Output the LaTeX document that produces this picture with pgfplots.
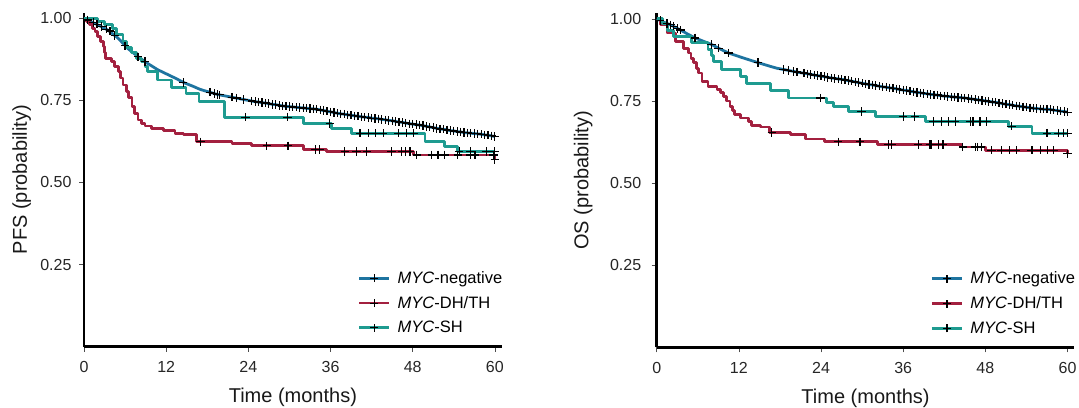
\documentclass[border=0pt]{standalone}
\usepackage{fontspec}
\setmainfont{Liberation Sans}
\usepackage{pgfplots}
\usepackage{pgfplotstable}
\pgfplotsset{compat=1.18}

\definecolor{cneg}{HTML}{1E74A0}
\definecolor{cdh}{HTML}{A3203F}
\definecolor{csh}{HTML}{1E9B90}

% ---------- PFS ----------
\pgfplotstableread{
t s
0 1.000
1.0 0.990
2.0 0.980
3.5 0.964
5.0 0.939
6.4 0.908
7.9 0.883
9.1 0.865
10.8 0.843
12.1 0.830
13.3 0.818
14.7 0.803
15.8 0.794
16.9 0.784
17.5 0.780
18.0 0.777
18.5 0.774
19.0 0.771
19.5 0.768
20.0 0.766
20.5 0.764
21.0 0.762
21.5 0.760
22.0 0.758
22.5 0.756
23.0 0.754
23.5 0.752
24.0 0.750
24.5 0.748
25.0 0.746
25.5 0.745
26.0 0.743
26.5 0.742
27.0 0.740
27.5 0.738
28.0 0.737
28.5 0.735
29.0 0.733
29.5 0.732
30.0 0.731
30.5 0.730
31.0 0.729
31.5 0.728
32.0 0.727
32.5 0.726
33.0 0.725
33.5 0.724
34.0 0.723
34.5 0.721
35.0 0.719
35.5 0.717
36.0 0.715
36.5 0.713
37.0 0.711
37.5 0.709
38.0 0.708
38.5 0.706
39.0 0.705
39.5 0.703
40.0 0.702
40.5 0.700
41.0 0.699
41.5 0.698
42.0 0.696
42.5 0.695
43.0 0.694
43.5 0.692
44.0 0.691
44.5 0.689
45.0 0.688
45.5 0.686
46.0 0.684
46.5 0.683
47.0 0.681
47.5 0.679
48.0 0.678
48.5 0.676
49.0 0.675
49.5 0.673
50.0 0.671
50.5 0.669
51.0 0.667
51.5 0.665
52.0 0.663
52.5 0.662
53.0 0.660
53.5 0.658
54.0 0.657
54.5 0.655
55.0 0.654
55.5 0.652
56.0 0.651
56.5 0.650
57.0 0.649
57.5 0.648
58.0 0.647
58.5 0.645
59.0 0.644
59.5 0.642
60.0 0.640
}\pfsneg

\pgfplotstableread{
t s
0.5 0.995
1.4 0.987
1.9 0.982
2.6 0.975
3.3 0.967
3.8 0.961
4.5 0.948
6.0 0.916
7.9 0.883
8.9 0.868
14.5 0.805
18.4 0.775
19.0 0.771
19.5 0.768
19.8 0.767
21.6 0.760
22.3 0.757
23.3 0.753
24.5 0.748
25.0 0.746
}\pfsnegc

\pgfplotstableread{
t s
0 1.000
0.4 0.990
0.8 0.980
1.2 0.970
1.6 0.959
2.0 0.945
2.4 0.930
2.8 0.914
3.05 0.895
3.1 0.878
4.0 0.868
4.5 0.852
5.0 0.837
5.3 0.818
5.7 0.797
6.2 0.776
6.5 0.758
7.0 0.731
7.4 0.710
7.9 0.690
8.4 0.680
8.9 0.672
9.9 0.665
11.6 0.658
13.3 0.648
14.5 0.645
16.4 0.624
21.6 0.619
24.5 0.612
32.0 0.601
35.4 0.594
48.1 0.584
60.0 0.570
}\pfsdh

\pgfplotstableread{
t s
17.0 0.624
26.7 0.612
29.8 0.612
33.8 0.601
34.4 0.601
38.1 0.594
39.8 0.594
41.3 0.594
44.9 0.594
46.4 0.594
46.9 0.594
47.6 0.594
48.6 0.584
50.8 0.584
51.7 0.584
52.7 0.584
54.6 0.584
56.4 0.584
57.1 0.584
59.8 0.584
60.0 0.570
}\pfsdhc

\pgfplotstableread{
t s
0 1.000
2.0 0.990
3.0 0.980
4.2 0.969
4.8 0.950
5.7 0.929
6.2 0.912
6.9 0.895
7.7 0.878
8.4 0.868
8.9 0.853
9.3 0.837
10.7 0.812
12.8 0.790
14.9 0.772
16.8 0.746
20.5 0.699
32.0 0.680
36.2 0.665
39.1 0.650
49.8 0.626
52.7 0.609
54.6 0.594
60.0 0.594
}\pfssh

\pgfplotstableread{
t s
23.6 0.699
29.7 0.699
35.9 0.680
40.3 0.650
41.5 0.650
42.6 0.650
43.7 0.650
45.9 0.650
47.1 0.650
48.1 0.650
54.8 0.594
56.4 0.594
58.8 0.594
60.0 0.594
}\pfsshc

% ---------- OS ----------
\pgfplotstableread{
t s
0 1.000
1.0 0.990
1.9 0.983
3.4 0.967
4.5 0.954
5.6 0.942
6.8 0.932
8.0 0.922
9.2 0.909
10.5 0.896
12.5 0.882
14.6 0.868
16.5 0.856
17.5 0.850
18.0 0.848
18.5 0.846
19.0 0.844
19.5 0.842
20.0 0.840
20.5 0.838
21.0 0.836
21.5 0.835
22.0 0.833
22.5 0.831
23.0 0.829
23.5 0.827
24.0 0.826
24.5 0.824
25.0 0.822
25.5 0.820
26.0 0.819
26.5 0.817
27.0 0.816
27.5 0.814
28.0 0.812
28.5 0.810
29.0 0.808
29.5 0.806
30.0 0.804
30.5 0.802
31.0 0.800
31.5 0.799
32.0 0.797
32.5 0.795
33.0 0.793
33.5 0.792
34.0 0.790
34.5 0.789
35.0 0.787
35.5 0.785
36.0 0.783
36.5 0.782
37.0 0.780
37.5 0.778
38.0 0.776
38.5 0.775
39.0 0.773
39.5 0.772
40.0 0.770
40.5 0.769
41.0 0.768
41.5 0.766
42.0 0.765
42.5 0.764
43.0 0.763
43.5 0.762
44.0 0.761
44.5 0.760
45.0 0.759
45.5 0.758
46.0 0.756
46.5 0.755
47.0 0.753
47.5 0.752
48.0 0.750
48.5 0.749
49.0 0.747
49.5 0.746
50.0 0.744
50.5 0.742
51.0 0.740
51.5 0.739
52.0 0.737
52.5 0.735
53.0 0.734
53.5 0.732
54.0 0.731
54.5 0.729
55.0 0.728
55.5 0.727
56.0 0.726
56.5 0.725
57.0 0.725
57.5 0.724
58.0 0.722
58.5 0.721
59.0 0.719
59.5 0.718
60.0 0.716
}\osneg

\pgfplotstableread{
t s
0.5 0.995
1.5 0.986
2.0 0.982
2.5 0.978
3.0 0.971
3.5 0.966
5.6 0.942
8.0 0.922
9.0 0.911
10.5 0.896
14.8 0.867
18.5 0.846
19.2 0.843
20.0 0.840
20.5 0.838
}\osnegc

\pgfplotstableread{
t s
0 1.000
0.5 0.983
1.5 0.957
2.7 0.932
3.9 0.911
4.6 0.896
5.0 0.880
5.4 0.866
5.8 0.850
6.1 0.835
6.6 0.810
7.5 0.795
8.8 0.785
9.3 0.775
9.7 0.764
10.2 0.750
10.7 0.734
11.1 0.720
11.4 0.708
12.2 0.698
13.4 0.688
13.9 0.675
15.1 0.671
16.5 0.654
19.5 0.647
21.7 0.634
24.5 0.626
32.2 0.617
44.5 0.610
48.0 0.600
60.0 0.589
}\osdh

\pgfplotstableread{
t s
16.8 0.654
26.5 0.626
29.7 0.626
33.8 0.617
34.3 0.617
38.2 0.617
39.9 0.617
40.1 0.617
41.1 0.617
41.8 0.617
44.7 0.610
46.5 0.610
46.9 0.610
47.4 0.610
48.9 0.600
50.3 0.600
51.5 0.600
52.5 0.600
54.7 0.600
54.9 0.600
56.1 0.600
57.1 0.600
58.0 0.600
60.0 0.589
}\osdhc

\pgfplotstableread{
t s
0 1.000
0.8 0.985
1.6 0.965
2.4 0.947
5.1 0.927
7.5 0.906
8.0 0.888
8.3 0.871
9.5 0.845
12.2 0.825
13.1 0.803
16.6 0.781
19.2 0.759
24.8 0.746
25.8 0.734
28.0 0.718
31.9 0.703
39.2 0.688
51.4 0.673
54.8 0.652
60.0 0.652
}\ossh

\pgfplotstableread{
t s
23.9 0.759
29.9 0.718
36.0 0.703
37.7 0.703
40.4 0.688
41.6 0.688
42.6 0.688
43.6 0.688
45.8 0.688
46.2 0.688
47.2 0.688
48.2 0.688
51.8 0.673
57.0 0.652
58.7 0.652
59.4 0.652
60.0 0.652
}\osshc

\pgfplotsset{
  km/.style={
    scale only axis, width=417.7pt, height=334pt,
    xmin=0, xmax=61, ymin=0, ymax=1.017,
    axis lines=left,
    axis line style={-, line width=2.6pt, black},
    xtick={0,12,...,60},
    ytick={0.25,0.5,0.75,1},
    yticklabels={0.25,0.50,0.75,1.00},
    tick align=outside, major tick length=5pt,
    tick style={black!70, line width=0.7pt},
    /pgf/number format/assume math mode=true,
    tick label style={font=\fontsize{16}{18}\selectfont, text=black!85},
    xticklabel style={yshift=-6pt},
    label style={font=\fontsize{20}{23}\selectfont, text=black!90},
    xlabel={Time (months)},
    xlabel style={at={(axis description cs:0.5,-0.152)}, anchor=center},
    clip=false,
    legend cell align=left,
    legend style={draw=none, fill=none,
      at={(axis description cs:0.648,0.238)}, anchor=north west,
      font=\fontsize{16.5}{19}\selectfont, row sep=7.5pt},
    legend image code/.code={
      \draw[##1, line width=2.8pt] (0pt,0pt) -- (30pt,0pt);
      \draw[black, line width=1.1pt] (11pt,0pt) -- (19pt,0pt) (15pt,-4pt) -- (15pt,4pt);
      \path (35pt,0pt);
    },
  },
  cens/.style={only marks, mark=+, mark size=4.2pt,
    mark options={black, line width=1.2pt}, forget plot},
  kmline/.style={line width=2.8pt, line join=round},
}

\begin{document}
\begin{tikzpicture}
\path[use as bounding box] (0pt,0pt) rectangle (1079pt,407pt);

\begin{axis}[km, at={(84pt,60.3pt)}, anchor=south west,
  yticklabel style={xshift=-4pt},
  ylabel={PFS (probability)},
  ylabel style={at={(axis description cs:-0.149,0.5)}, anchor=center}]
\addplot[kmline, cneg] table {\pfsneg};
\addplot[kmline, cdh, const plot] table {\pfsdh};
\addplot[kmline, csh, const plot] table {\pfssh};
\addplot[cens] table {\pfsnegc};
\addplot[cens] table[restrict x to domain=25.5:60] {\pfsneg};
\addplot[cens] table {\pfsdhc};
\addplot[cens] table {\pfsshc};
\legend{\textit{MYC}-negative, \textit{MYC}-DH/TH, \textit{MYC}-SH}
\end{axis}

\begin{axis}[km, at={(656.7pt,59.7pt)}, anchor=south west,
  yticklabel style={xshift=-7pt},
  ylabel={OS (probability)},
  ylabel style={at={(axis description cs:-0.176,0.5)}, anchor=center}]
\addplot[kmline, cneg] table {\osneg};
\addplot[kmline, cdh, const plot] table {\osdh};
\addplot[kmline, csh, const plot] table {\ossh};
\addplot[cens] table {\osnegc};
\addplot[cens] table[restrict x to domain=21.5:60] {\osneg};
\addplot[cens] table {\osdhc};
\addplot[cens] table {\osshc};
\legend{\textit{MYC}-negative, \textit{MYC}-DH/TH, \textit{MYC}-SH}
\end{axis}
\end{tikzpicture}
\end{document}
